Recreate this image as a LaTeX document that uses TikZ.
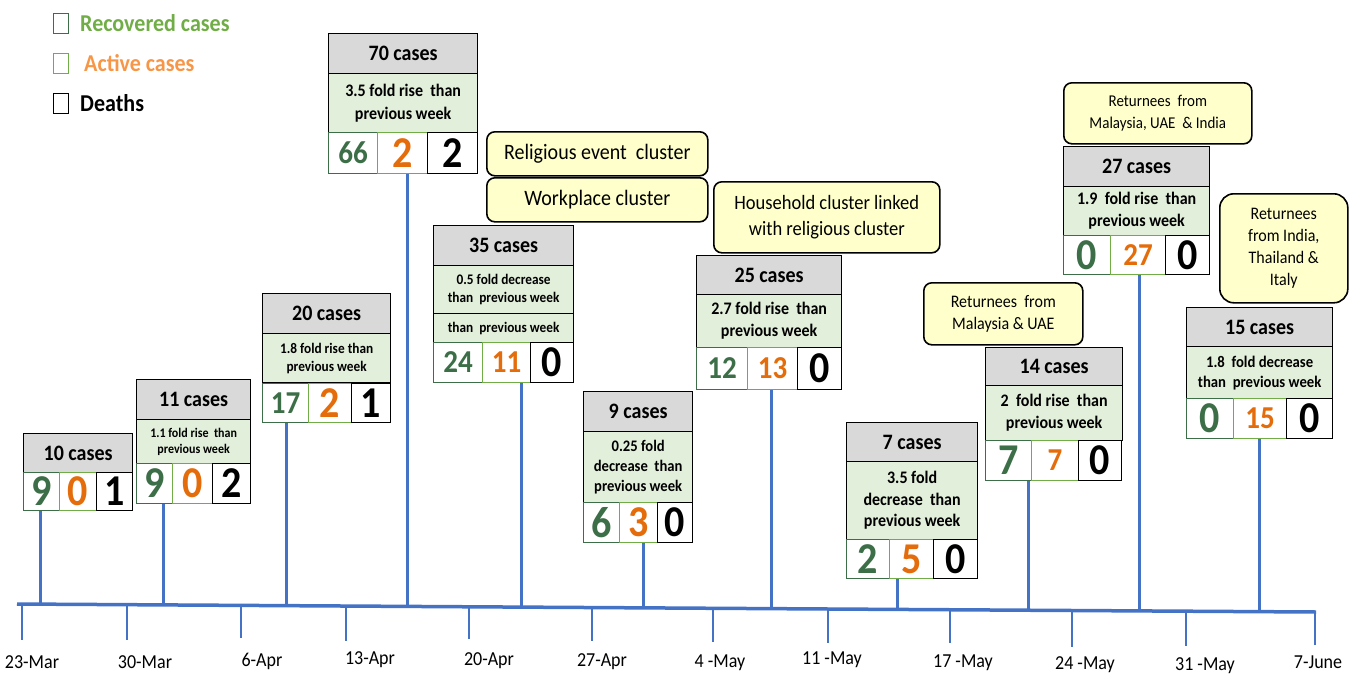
\documentclass[tikz,border=0pt]{standalone}
\usepackage{fontspec}
\setmainfont{Carlito}[Scale=1.1, FakeStretch=0.91]
\definecolor{axblue}{HTML}{4472C4}
\definecolor{hdrgray}{HTML}{D9D9D9}
\definecolor{descgreen}{HTML}{E2EFDA}
\definecolor{clyellow}{HTML}{FFFFCC}
\definecolor{numgreen}{HTML}{3C6E47}
\definecolor{numorange}{HTML}{E46C0A}
\definecolor{cellgreenA}{HTML}{3C6E47}
\definecolor{cellgreenB}{HTML}{70AD47}
\definecolor{legorange}{HTML}{F79646}
\newcommand\myfs[2]{\fontsize{#1}{#2}\selectfont}
\begin{document}
\begin{tikzpicture}[x=1pt,y=-1pt,
  sz/.style 2 args={minimum width=#1pt, minimum height=#2pt},
  base/.style={inner sep=0pt, anchor=north west, align=center},
  hdr/.style={base, draw=black, line width=1.3pt, fill=hdrgray, font=\bfseries\myfs{20}{24}},
  desc/.style={base, draw=black, line width=1.3pt, fill=descgreen},
  rc/.style={base, draw=cellgreenA, line width=1pt, fill=white, text=numgreen},
  ac/.style={base, draw=cellgreenB, line width=1pt, fill=white, text=numorange},
  dc/.style={base, draw=black, line width=1pt, fill=white, text=black},
  big/.style={font=\bfseries\myfs{40}{40}},
  mid/.style={font=\bfseries\myfs{29}{30}},
  clust/.style={base, draw=black, line width=1.6pt, fill=clyellow, rounded corners=8pt},
  stem/.style={draw=axblue, line width=3pt},
  axisline/.style={draw=axblue, line width=3.5pt},
  tickline/.style={draw=axblue, line width=1.8pt},
  datelab/.style={inner sep=0pt, font=\myfs{18}{20}},
  legbox/.style={base, line width=1.3pt, fill=white, sz={15}{20}},
  legtext/.style={inner sep=0pt, anchor=west, font=\bfseries\myfs{22}{24}},
]
\useasboundingbox (0,0) rectangle (1355,675);

% ---------- axis ----------
\coordinate (axL) at (17,604);
\coordinate (axR) at (1316,612);
\draw[axisline] (axL) -- (axR);
\foreach \x/\y/\e/\lab/\lx/\ly [count=\i] in {
  22/604.0/640/23-Mar/32/662,
  127/604.7/640/30-Mar/145/662,
  241/605.4/638/6-Apr/262/661,
  346/606.0/641/13-Apr/370/660,
  469/606.8/639/20-Apr/489/661,
  592/607.5/641/27-Apr/602/662,
  713/608.3/642/4 -May/720/663,
  828/609.0/643/11 -May/832/660,
  950/609.7/643/17 -May/963/663,
  1072/610.5/647/24 -May/1085/665,
  1186/611.2/646/31 -May/1205/666,
  1315/612.0/645/7-June/1318/662}
{
  \coordinate (tk\i) at (\x,\y);
  \draw[tickline] (tk\i) -- (\x,\e);
  \node[datelab] (lab\i) at (\lx,\ly) {\lab};
}

% ---------- legend ----------
\node[legbox, draw=cellgreenA] (lg1) at (53,13) {};
\node[legtext, text=cellgreenB] (lt1) at (80,23) {Recovered cases};
\node[legbox, draw=cellgreenB] (lg2) at (53,53) {};
\node[legtext, text=legorange] (lt2) at (84,63) {Active cases};
\node[legbox, draw=black] (lg3) at (53,93) {};
\node[legtext, text=black] (lt3) at (80,103) {Deaths};

% ---------- clusters ----------
\node[clust, sz={221}{44}, font=\myfs{20}{24}] (rel) at (486,131) {Religious event\ \ cluster};
\node[clust, sz={221}{44}, font=\myfs{20}{24}] (work) at (486,177) {Workplace cluster};
\node[clust, sz={226}{71}, font=\myfs{18.5}{26}] (house) at (713,181) {Household cluster linked\\with religious cluster};
\node[clust, sz={159}{62}, font=\myfs{16}{22}] (retA) at (923,282) {Returnees\ \ from\\Malaysia \& UAE};
\node[clust, sz={188}{61}, font=\myfs{15}{22}] (retB) at (1063,82) {Returnees\ \ from\\Malaysia, UAE\ \ \& India};
\node[clust, sz={128}{109}, font=\myfs{16}{22}, rounded corners=14pt] (retC) at (1219,193) {Returnees\\from India,\\Thailand \&\\Italy};

% ---------- box 1 : 10 cases ----------
\node[hdr, sz={109}{39}] (b1h) at (23,433) {10 cases};
\node[rc, big, sz={36}{38}] (b1c1) at (23,472) {9};
\node[ac, big, sz={37}{38}] (b1c2) at (59,472) {0};
\node[dc, big, sz={36}{38}] (b1c3) at (96,472) {1};

% ---------- box 2 : 11 cases ----------
\node[hdr, sz={114}{40}] (b2h) at (136,379) {11 cases};
\node[desc, sz={114}{44}, font=\bfseries\myfs{12}{16}] (b2d) at (136,419) {1.1 fold rise\ \ than\\previous week};
\node[rc, big, sz={36}{40}] (b2c1) at (136,463) {9};
\node[ac, big, sz={40}{40}] (b2c2) at (172,463) {0};
\node[dc, big, sz={38}{40}] (b2c3) at (212,463) {2};

% ---------- box 3 : 20 cases ----------
\node[hdr, sz={128}{40}] (b3h) at (262,293) {20 cases};
\node[desc, sz={128}{49}, font=\bfseries\myfs{13.3}{18}] (b3d) at (262,333) {1.8 fold rise than\\previous week};
\node[rc, mid, sz={46}{39}] (b3c1) at (262,383) {17};
\node[ac, big, sz={43}{39}] (b3c2) at (308,383) {2};
\node[dc, big, sz={39}{39}] (b3c3) at (351,383) {1};

% ---------- box 4 : 70 cases ----------
\node[hdr, sz={149}{40}] (b4h) at (328,33) {70 cases};
\node[desc, sz={149}{59}, font=\bfseries\myfs{16}{23}] (b4d) at (328,73) {3.5 fold rise\ \ than\\previous week};
\node[rc, mid, sz={49}{41}] (b4c1) at (328,132) {66};
\node[ac, big, sz={50}{41}] (b4c2) at (377,132) {2};
\node[dc, big, sz={50}{41}] (b4c3) at (427,132) {2};

% ---------- box 5 : 35 cases ----------
\node[hdr, sz={140}{40}] (b5h) at (433,225) {35 cases};
\node[desc, sz={140}{48}, font=\bfseries\myfs{13.3}{18}] (b5d) at (433,265) {0.5 fold decrease\\than\ \ previous week};
\node[desc, sz={140}{29}, font=\bfseries\myfs{13.3}{18}] (b5e) at (433,313) {than\ \ previous week};
\node[rc, mid, sz={49}{40}] (b5c1) at (433,342) {24};
\node[ac, mid, sz={48}{40}] (b5c2) at (482,342) {11};
\node[dc, big, sz={43}{40}] (b5c3) at (530,342) {0};

% ---------- box 6 : 9 cases ----------
\node[hdr, sz={109}{40}] (b6h) at (583,391) {9 cases};
\node[desc, sz={109}{71}, font=\bfseries\myfs{14.6}{20}] (b6d) at (583,431) {0.25 fold\\decrease\ \ than\\previous week};
\node[rc, big, sz={36}{40}] (b6c1) at (583,502) {6};
\node[ac, big, sz={38}{40}] (b6c2) at (619,502) {3};
\node[dc, big, sz={35}{40}] (b6c3) at (657,502) {0};

% ---------- box 7 : 25 cases ----------
\node[hdr, sz={145}{39}] (b7h) at (696,255) {25 cases};
\node[desc, sz={145}{53}, font=\bfseries\myfs{16}{22}] (b7d) at (696,294) {2.7 fold rise\ \ than\\previous week};
\node[rc, mid, sz={51}{42}] (b7c1) at (696,347) {12};
\node[ac, mid, sz={50}{42}] (b7c2) at (747,347) {13};
\node[dc, big, sz={44}{42}] (b7c3) at (797,347) {0};

% ---------- box 8 : 7 cases ----------
\node[hdr, sz={131}{39}] (b8h) at (846,422) {7 cases};
\node[desc, sz={131}{78}, font=\bfseries\myfs{16}{21.5}] (b8d) at (846,461) {3.5 fold\\decrease\ \ than\\previous week};
\node[rc, big, sz={43}{39}] (b8c1) at (846,539) {2};
\node[ac, big, sz={44}{39}] (b8c2) at (889,539) {5};
\node[dc, big, sz={44}{39}] (b8c3) at (933,539) {0};

% ---------- box 9 : 14 cases ----------
\node[hdr, sz={137}{38}] (b9h) at (985,347) {14 cases};
\node[desc, sz={137}{55}, font=\bfseries\myfs{16}{22}] (b9d) at (985,385) {2\ \ fold rise\ \ than\\previous week};
\node[rc, big, sz={46}{40}] (b9c1) at (985,440) {7};
\node[ac, mid, sz={47}{40}] (b9c2) at (1031,440) {7};
\node[dc, big, sz={43}{40}] (b9c3) at (1078,440) {0};

% ---------- box 10 : 27 cases ----------
\node[hdr, sz={146}{40}] (b10h) at (1063,146) {27 cases};
\node[desc, sz={146}{49}, font=\bfseries\myfs{16}{22}] (b10d) at (1063,186) {1.9\ \ fold rise\ \ than\\previous week};
\node[rc, big, sz={47}{39}] (b10c1) at (1063,235) {0};
\node[ac, mid, sz={55}{39}] (b10c2) at (1110,235) {27};
\node[dc, big, sz={44}{39}] (b10c3) at (1165,235) {0};

% ---------- box 11 : 15 cases ----------
\node[hdr, sz={146}{39}] (b11h) at (1186,307) {15 cases};
\node[desc, sz={146}{52}, font=\bfseries\myfs{14.7}{20}] (b11d) at (1186,346) {1.8\ \ fold decrease\\than\ \ previous week};
\node[rc, big, sz={47}{40}] (b11c1) at (1186,398) {0};
\node[ac, mid, sz={53}{40}] (b11c2) at (1233,398) {15};
\node[dc, big, sz={46}{40}] (b11c3) at (1286,398) {0};

% ---------- stems ----------
\foreach \b/\c/\x/\y in {1/1/40/604.1, 2/1/163/604.9, 3/1/286/605.7, 4/2/407/606.4,
  5/2/521/607.1, 6/2/643/607.9, 7/2/771/608.6, 8/2/897/609.4, 9/1/1028/610.2,
  10/2/1139/610.9, 11/2/1259/611.7}
{
  \coordinate (s\b) at (\x,\y);
  \draw[stem] (b\b c\c.south -| s\b) -- (s\b);
}
\end{tikzpicture}
\end{document}
